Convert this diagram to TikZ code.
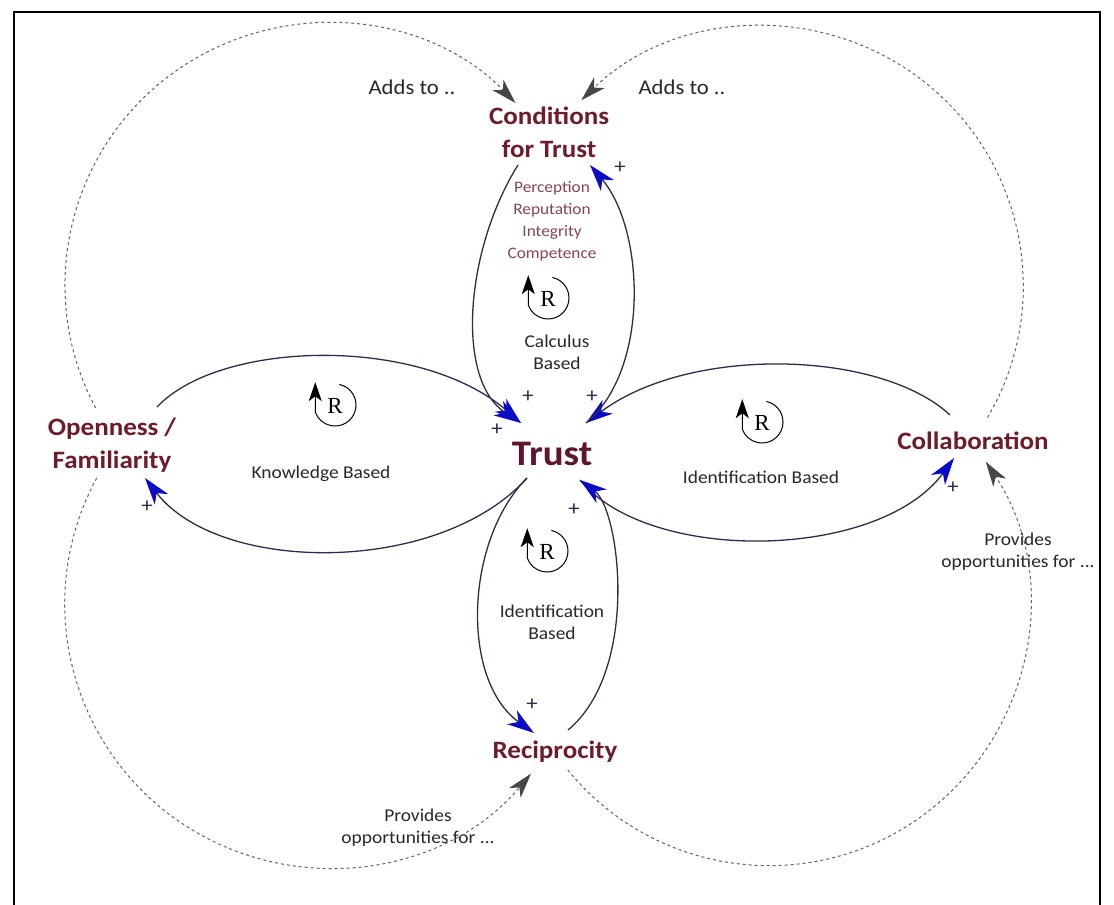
\documentclass[tikz,border=0pt]{standalone}
\usepackage{fontspec}
\setmainfont{Carlito}[FakeStretch=1.08]
\newfontfamily\rfont{Liberation Serif}
\usetikzlibrary{arrows.meta}
\definecolor{lblred}{RGB}{110,28,42}
\definecolor{trustred}{RGB}{95,20,50}
\definecolor{condlist}{RGB}{135,70,80}
\definecolor{linecol}{RGB}{45,45,75}
\definecolor{tipblue}{RGB}{10,10,200}
\definecolor{dashcol}{RGB}{100,100,100}
\definecolor{dashtip}{RGB}{70,70,70}
\definecolor{txtgray}{RGB}{40,40,40}
\begin{document}
\begin{tikzpicture}[x=1pt,y=-1pt,
  lbl/.style={font=\fontsize{25}{33}\selectfont\bfseries, text=lblred, align=center, inner sep=0pt},
  small/.style={font=\fontsize{18}{22}\selectfont, text=txtgray, align=center, inner sep=0pt},
  addsto/.style={font=\fontsize{21}{24}\selectfont, text=txtgray, inner sep=0pt},
  condtxt/.style={font=\fontsize{16}{22}\selectfont, text=condlist, align=center, inner sep=0pt},
  conn/.style={draw=linecol, line width=1.3pt, -{Stealth[length=27pt,width=17pt,inset=8pt,color=tipblue]}},
  dconn/.style={draw=dashcol, line width=1pt, dash pattern=on 3pt off 3pt, -{Stealth[length=25pt,width=15pt,inset=7pt,color=dashtip]}},
  plus/.style={font=\fontsize{21}{21}\selectfont, text=linecol, inner sep=0pt},
  rloop/.pic={
    \draw[line width=1pt, -{Stealth[length=19pt,width=13pt,inset=5pt]}] (-78:21) arc[start angle=-78,end angle=160,radius=21] -- ++(0,-30);
    \node[font=\rfont\fontsize{23}{23}\selectfont, inner sep=0pt] at (0,1) {R};
  }
]
\useasboundingbox (0,0) rectangle (1114,905);
\fill[white] (0,0) rectangle (1114,905);
\draw[line width=2pt] (14,915) -- (14,12) -- (1100,12) -- (1100,915);

% nodes
\node[lbl] (cond) at (549,132) {Conditions\\for Trust};
\node[lbl, font=\fontsize{36}{40}\selectfont\bfseries, text=trustred] (trust) at (552,454) {Trust};
\node[lbl] (open) at (112,445) {Openness /\\Familiarity};
\node[lbl] (coll) at (973,441) {Collaboration};
\node[lbl] (rec) at (555,752) {Reciprocity};

\node[condtxt] (condlist) at (552,221) {Perception\\Reputation\\Integrity\\Competence};
\node[small] (calc) at (557,352) {Calculus\\Based};
\node[small] (know) at (321,474) {Knowledge Based};
\node[small] (identr) at (761,477) {Identification Based};
\node[small] (identb) at (552,622) {Identification\\Based};
\node[addsto] (addl) at (412,87) {Adds to ..};
\node[addsto] (addr) at (682,87) {Adds to ..};
\node[small] (provr) at (1018,552) {Provides\\opportunities for ...};
\node[small] (provb) at (418,828) {Provides\\opportunities for ...};

% loop symbols
\pic at (548,298) {rloop};
\pic at (335,405) {rloop};
\pic at (762,422) {rloop};
\pic at (547,551) {rloop};

% connector end points
\coordinate (trustNW) at (521,423);
\coordinate (trustNE) at (586,423);
\coordinate (trustSW) at (527,478);
\coordinate (trustSE) at (580,480);
\coordinate (condSW) at (518,165);
\coordinate (condSE) at (590,165);
\coordinate (openNE) at (157,407);
\coordinate (openSE) at (145,478);
\coordinate (collNW) at (950,415);
\coordinate (collSW) at (954,458);
\coordinate (recNW) at (534,733);
\coordinate (recNE) at (568,730);

% solid causal links
\draw[conn] (openNE) .. controls (220,340) and (420,335) .. (trustNW);
\draw[conn] (trustSW) .. controls (440,575) and (220,575) .. (openSE);
\draw[conn] (collNW) .. controls (880,350) and (690,345) .. (trustNE);
\draw[conn] (trustSE) .. controls (650,565) and (880,560) .. (collSW);
\draw[conn] (condSW) .. controls (465,250) and (455,380) .. (trustNW);
\draw[conn] (trustNE) .. controls (650,370) and (645,230) .. (condSE);
\draw[conn] (trustSW) .. controls (465,540) and (460,680) .. (recNW);
\draw[conn] (recNE) .. controls (640,670) and (620,510) .. (trustSE);

% centres of the dashed circles
\coordinate (tlc) at (327,285);
\coordinate (trc) at (765,287);
\coordinate (brc) at (770,605);
\coordinate (blc) at (327,603);

% dashed links
\draw[dconn] ([shift={(152:262)}]tlc) arc[start angle=152, end angle=316, radius=262];
\draw[dconn] ([shift={(30.4:258)}]trc) arc[start angle=30.4, end angle=-134.4, radius=260];
\draw[dconn] ([shift={(140.8:261)}]brc) arc[start angle=140.8, end angle=-33.6, radius=260];
\draw[dconn] ([shift={(208.5:262)}]blc) arc[start angle=208.5, end angle=40, radius=264];

% polarity signs
\node[plus] (p1) at (620,168) {+};
\node[plus] (p2) at (528,397) {+};
\node[plus] (p3) at (592,397) {+};
\node[plus] (p4) at (497,430) {+};
\node[plus] (p5) at (147,507) {+};
\node[plus] (p6) at (953,488) {+};
\node[plus] (p7) at (574,510) {+};
\node[plus] (p8) at (532,705) {+};
\end{tikzpicture}
\end{document}
